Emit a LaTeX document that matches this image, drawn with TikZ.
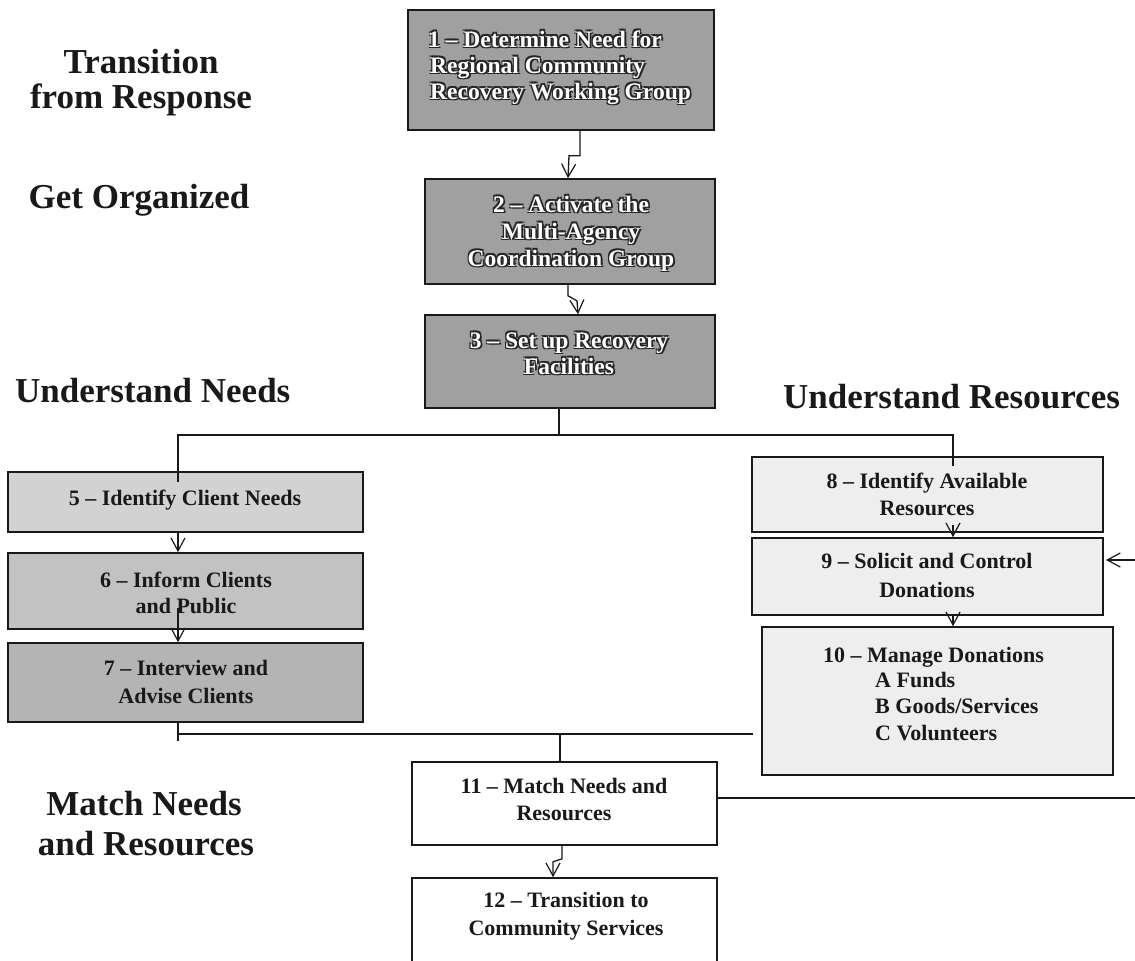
\documentclass[tikz,border=0pt]{standalone}
\usepackage{fontspec}
\setmainfont{Liberation Serif}
\usetikzlibrary{arrows.meta,fit,calc}
\definecolor{gdark}{RGB}{160,160,160}
\definecolor{gfive}{RGB}{210,210,210}
\definecolor{gsix}{RGB}{194,194,194}
\definecolor{gseven}{RGB}{180,180,180}
\definecolor{glight}{RGB}{238,238,238}
\definecolor{ink}{RGB}{25,25,25}
\tikzset{
  boxb/.style={draw=ink, line width=1.6pt, inner sep=0pt},
  conn/.style={draw=ink, line width=1.3pt},
  arr/.style={conn, -{Straight Barb[length=13pt,width=14pt,line width=1.2pt]}},
  lbl/.style={font=\fontsize{35}{40}\selectfont\bfseries, text=ink, inner sep=0pt},
  btxt/.style={font=\fontsize{22}{26}\selectfont\bfseries, text=ink, inner sep=0pt},
  embs/.style={font=\fontsize{23.5}{26}\selectfont\bfseries, text=black!85, inner sep=0pt},
  embw/.style={font=\fontsize{23.5}{26}\selectfont\bfseries, text=white, inner sep=0pt},
}
\newcommand\embline[5]{%
  \foreach \dx/\dy [count=\k] in {1.2/1.2,-1.2/-1.2,1.2/-1.2,-1.2/1.2,1.9/1.9}{
    \node[embs, anchor=#2] (#1s\k) at ({#3+\dx},{#4+\dy}) {#5};}
  \node[embw, anchor=#2] (#1) at (#3,#4) {#5};}
\begin{document}
\begin{tikzpicture}[x=1pt,y=-1pt]
\useasboundingbox[fill=white] (0,0) rectangle (1135,961);

% ---- side labels
\node[lbl, anchor=base] (lA) at (141,73) {Transition};
\node[lbl, anchor=base] (lB) at (141,108) {from Response};
\node[lbl, anchor=base] (lC) at (139,208) {Get Organized};
\node[lbl, anchor=base west] (lD) at (15,402) {Understand Needs};
\node[lbl, anchor=base west] (lE) at (783,408) {Understand Resources};
\node[lbl, anchor=base] (lF) at (144,815) {Match Needs};
\node[lbl, anchor=base] (lG) at (146,855) {and Resources};

% ---- boxes
\node[boxb, fill=gdark, fit={(408,10)(714,130)}] (b1) {};
\node[boxb, fill=gdark, fit={(425,179)(715,284)}] (b2) {};
\node[boxb, fill=gdark, fit={(425,315)(715,408)}] (b3) {};
\node[boxb, fill=gfive, fit={(8,472)(363,532)}] (b5) {};
\node[boxb, fill=gsix, fit={(8,553)(363,629)}] (b6) {};
\node[boxb, fill=gseven, fit={(8,643)(363,722)}] (b7) {};
\node[boxb, fill=glight, fit={(752,457)(1103,532)}] (b8) {};
\node[boxb, fill=glight, fit={(752,538)(1103,615)}] (b9) {};
\node[boxb, fill=glight, fit={(762,627)(1113,775)}] (b10) {};
\node[boxb, fill=white, fit={(412,762)(717,845)}] (b11) {};
\node[boxb, fill=white, fit={(412,878)(717,990)}] (b12) {};

% ---- embossed texts
\embline{t1a}{base west}{428}{47}{1 -- Determine Need for}
\embline{t1b}{base west}{430}{73}{Regional Community}
\embline{t1c}{base west}{430}{99}{Recovery Working Group}
\embline{t2a}{base}{571}{212}{2 -- Activate the}
\embline{t2b}{base}{571}{239}{Multi-Agency}
\embline{t2c}{base}{571}{266}{Coordination Group}
\embline{t3a}{base}{569}{348}{3 -- Set up Recovery}
\embline{t3b}{base}{569}{374}{Facilities}

% ---- plain box texts
\node[btxt, anchor=base] (t5) at (185,505) {5 -- Identify Client Needs};
\node[btxt, anchor=base] (t6a) at (186,587) {6 -- Inform Clients};
\node[btxt, anchor=base] (t6b) at (186,613) {and Public};
\node[btxt, anchor=base] (t7a) at (186,675) {7 -- Interview and};
\node[btxt, anchor=base] (t7b) at (186,703) {Advise Clients};
\node[btxt, anchor=base] (t8a) at (927,488) {8 -- Identify Available};
\node[btxt, anchor=base] (t8b) at (927,515) {Resources};
\node[btxt, anchor=base] (t9a) at (927,568) {9 -- Solicit and Control};
\node[btxt, anchor=base] (t9b) at (927,597) {Donations};
\node[btxt, anchor=base west] (t10a) at (823,662) {10 -- Manage Donations};
\node[btxt, anchor=base west] (t10b) at (875,687) {A Funds};
\node[btxt, anchor=base west] (t10c) at (875,713) {B Goods/Services};
\node[btxt, anchor=base west] (t10d) at (875,740) {C Volunteers};
\node[btxt, anchor=base] (t11a) at (564,793) {11 -- Match Needs and};
\node[btxt, anchor=base] (t11b) at (564,820) {Resources};
\node[btxt, anchor=base] (t12a) at (566,907) {12 -- Transition to};
\node[btxt, anchor=base] (t12b) at (566,935) {Community Services};

% ---- connectors
\draw[arr] ([xshift=19pt]b1.south) -- ++(0,25) -- ++(-11,0) -- ([xshift=-2pt]b2.north);
\draw[arr] ([xshift=-2pt]b2.south) -- ++(0,11) -- ++(9,5) -- ([xshift=8pt]b3.north);

\coordinate (j1) at (559,435);
\coordinate (p5) at ([xshift=-7.5pt,yshift=-11pt]b5.north);
\coordinate (p8) at ([xshift=25.5pt,yshift=-10pt]b8.north);
\draw[conn] ([xshift=-11pt]b3.south) -- (j1);
\draw[conn] (p5) -- (p5 |- j1) -- (p8 |- j1) -- (p8);

\draw[arr] ([xshift=-7.5pt]b5.south) -- ([xshift=-7.5pt]b6.north);
\draw[arr] ([xshift=-7.5pt,yshift=22pt]b6.south) -- ([xshift=-7.5pt]b7.north);

\draw[arr] ([xshift=25.5pt,yshift=8pt]b8.south) -- ([xshift=25.5pt]b9.north);
\draw[arr] ([xshift=25.5pt]b9.south) -- ([xshift=15.5pt]b10.north);

\coordinate (r9) at (1135,560);
\coordinate (r9t) at (1106,560);
\draw[arr] (r9) -- (r9t);

\coordinate (m1) at (178,734);
\coordinate (m2) at (753,734);
\draw[conn] ([xshift=-7.5pt]b7.south) -- ++(0,18);
\draw[conn] (m1) -- (m2);
\draw[conn] ([xshift=-4.5pt]b11.north) -- ([xshift=-4.5pt]b11.north |- m1);

\coordinate (e11) at (1135,798);
\draw[conn] ([yshift=5.5pt]b11.east) -- (e11);

\draw[arr] ([xshift=-2.5pt]b11.south) -- ++(0,13) -- ++(-9,3) -- ([xshift=-11.5pt]b12.north);
\end{tikzpicture}
\end{document}
